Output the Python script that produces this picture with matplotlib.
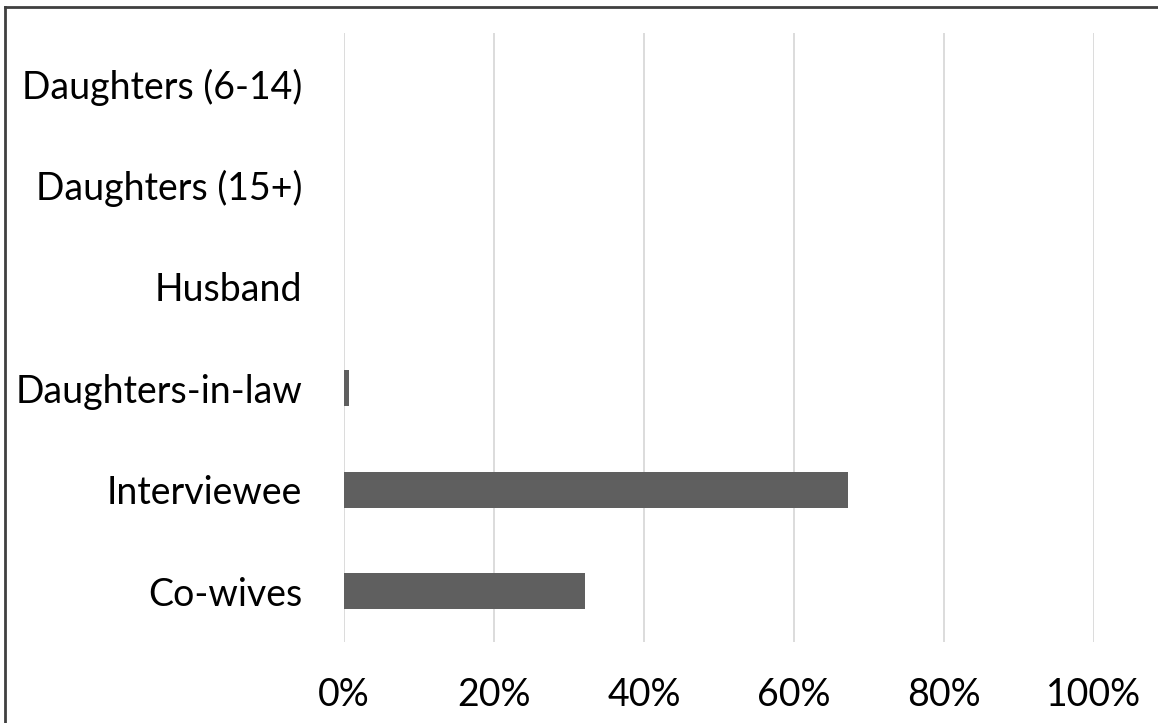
import matplotlib
matplotlib.use("Agg")
import matplotlib.pyplot as plt
from matplotlib.lines import Line2D
from matplotlib.ticker import PercentFormatter

categories = ["Co-wives", "Interviewee", "Daughters-in-law", "Husband",
              "Daughters (15+)", "Daughters (6-14)"]
values = [32.1, 67.2, 0.7, 0.0, 0.0, 0.0]
xticks = [0, 20, 40, 60, 80, 100]

plt.rcParams['font.family'] = ['Lato', 'DejaVu Sans']

fig = plt.figure(figsize=(11.58, 7.23), dpi=100)
ax = fig.add_axes([344/1158, 1-642/723, 750/1158, 609/723])

ax.barh(range(len(categories)), values, height=0.35, color='#5f5f5f', zorder=3)
ax.set_xlim(0, 100)
ax.set_ylim(-0.5, len(categories)-0.5)
ax.set_xticks(xticks)
ax.xaxis.set_major_formatter(PercentFormatter(decimals=0))
ax.set_yticks(range(len(categories)))
ax.set_yticklabels(categories)
ax.grid(axis='x', color='#d9d9d9', linewidth=1.3, zorder=0)
for s in ax.spines.values():
    s.set_visible(False)
ax.tick_params(axis='both', length=0, labelsize=27, colors='#000000')
ax.tick_params(axis='x', pad=25)
ax.tick_params(axis='y', pad=30)

# outer border (top and left)
fig.add_artist(Line2D([5/1158, 1], [1-7/723, 1-7/723], transform=fig.transFigure,
                      color='#404040', linewidth=2))
fig.add_artist(Line2D([5/1158, 5/1158], [0, 1-7/723], transform=fig.transFigure,
                      color='#404040', linewidth=2))

fig.savefig("out.png", dpi=100)
